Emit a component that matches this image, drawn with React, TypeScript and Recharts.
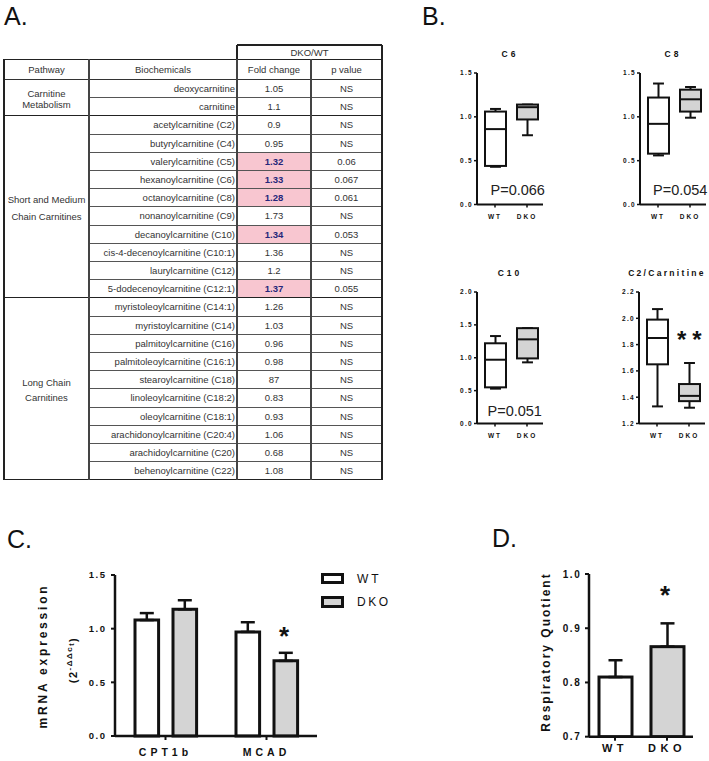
import React from 'react'
import { BarChart, ComposedChart, Bar, XAxis, YAxis, ErrorBar, Legend } from 'recharts'

const FONT = '"Liberation Sans", Arial, sans-serif'
const INK = '#111'
const GREY = '#d4d4d4'
const PINK = '#f8c6d0'

// ---- A. table ----
const pathwayLines = [['Carnitine', 'Metabolism'], ['Short and Medium', 'Chain Carnitines'], ['Long Chain', 'Carnitines']]
const pathwayRows = [2, 10, 10]
const pathwayLeading = [11.5, 17.5, 15]
const biochemicals = [
  'deoxycarnitine', 'carnitine', 'acetylcarnitine (C2)', 'butyrylcarnitine (C4)', 'valerylcarnitine (C5)',
  'hexanoylcarnitine (C6)', 'octanoylcarnitine (C8)', 'nonanoylcarnitine (C9)', 'decanoylcarnitine (C10)',
  'cis-4-decenoylcarnitine (C10:1)', 'laurylcarnitine (C12)', '5-dodecenoylcarnitine (C12:1)',
  'myristoleoylcarnitine (C14:1)', 'myristoylcarnitine (C14)', 'palmitoylcarnitine (C16)',
  'palmitoleoylcarnitine (C16:1)', 'stearoylcarnitine (C18)', 'linoleoylcarnitine (C18:2)',
  'oleoylcarnitine (C18:1)', 'arachidonoylcarnitine (C20:4)', 'arachidoylcarnitine (C20)', 'behenoylcarnitine (C22)',
]
const foldChanges = ['1.05', '1.1', '0.9', '0.95', '1.32', '1.33', '1.28', '1.73', '1.34', '1.36', '1.2', '1.37',
  '1.26', '1.03', '0.96', '0.98', '87', '0.83', '0.93', '1.06', '0.68', '1.08']
const pValues = ['NS', 'NS', 'NS', 'NS', '0.06', '0.067', '0.061', 'NS', '0.053', 'NS', 'NS', '0.055',
  'NS', 'NS', 'NS', 'NS', 'NS', 'NS', 'NS', 'NS', 'NS', 'NS']

// ---- B. box plots: [min, q1, median, q3, max] ----
const boxGroups = ['WT', 'DKO']
const c6WT = [0.43, 0.44, 0.86, 1.06, 1.09]
const c6DKO = [0.79, 0.97, 1.11, 1.14, 1.14]
const c8WT = [0.56, 0.58, 0.92, 1.22, 1.38]
const c8DKO = [0.99, 1.06, 1.2, 1.31, 1.34]
const c10WT = [0.53, 0.55, 0.97, 1.22, 1.33]
const c10DKO = [0.93, 0.99, 1.28, 1.45, 1.45]
const c2WT = [1.33, 1.65, 1.85, 1.99, 2.07]
const c2DKO = [1.32, 1.37, 1.41, 1.5, 1.66]
const ticksC6 = [0, 0.5, 1, 1.5]
const ticksC10 = [0, 0.5, 1, 1.5, 2]
const ticksC2 = [1.2, 1.4, 1.6, 1.8, 2, 2.2]

// ---- C. mRNA ----
const genes = ['CPT1b', 'MCAD']
const mrnaWT = [1.08, 0.97]
const mrnaWTsem = [0.065, 0.09]
const mrnaDKO = [1.18, 0.7]
const mrnaDKOsem = [0.085, 0.075]
const mrnaTicks = [0, 0.5, 1, 1.5]

// ---- D. RQ ----
const rqGroups = ['WT', 'DKO']
const rqMean = [0.81, 0.866]
const rqSem = [0.031, 0.043]
const rqTicks = [0.7, 0.8, 0.9, 1.0]

const colX = [4, 89, 237, 311, 382]
const HEAD_TOP = 59.4
const HEAD_BOTTOM = 79.4
const ROW_H = 18.2
const rowTop = (i: number) => HEAD_BOTTOM + i * ROW_H

function HLine({ x1, x2, y, w = 1, c = '#444' }: any) {
  return <div style={{ position: 'absolute', left: x1, width: x2 - x1, top: y - w / 2, height: w, background: c }} />
}
function VLine({ x, y1, y2, w = 1, c = '#444' }: any) {
  return <div style={{ position: 'absolute', left: x - w / 2, width: w, top: y1, height: y2 - y1, background: c }} />
}

function Cell({ left, top, width, height, align = 'center', children, style }: any) {
  return (
    <div
      style={{
        position: 'absolute', left, top, width, height, display: 'flex', alignItems: 'center',
        justifyContent: align === 'right' ? 'flex-end' : 'center', boxSizing: 'border-box',
        paddingRight: align === 'right' ? 2 : 0, fontSize: 9.5, color: '#333', whiteSpace: 'nowrap', ...style,
      }}
    >
      {children}
    </div>
  )
}

function TableA() {
  const bottom = rowTop(biochemicals.length)
  const groupStarts = [0, 2, 12]
  return (
    <div style={{ position: 'absolute', left: 0, top: 0, fontFamily: FONT }}>
      {biochemicals.map((b, i) =>
        pValues[i] !== 'NS' ? (
          <div key={'pk' + i} style={{ position: 'absolute', left: colX[2], top: rowTop(i), width: colX[3] - colX[2], height: ROW_H, background: PINK }} />
        ) : null
      )}
      <Cell left={colX[2]} top={45} width={colX[4] - colX[2]} height={HEAD_TOP - 45}>DKO/WT</Cell>
      <Cell left={colX[0]} top={HEAD_TOP} width={colX[1] - colX[0]} height={HEAD_BOTTOM - HEAD_TOP}>Pathway</Cell>
      <Cell left={colX[1]} top={HEAD_TOP} width={colX[2] - colX[1]} height={HEAD_BOTTOM - HEAD_TOP}>Biochemicals</Cell>
      <Cell left={colX[2]} top={HEAD_TOP} width={colX[3] - colX[2]} height={HEAD_BOTTOM - HEAD_TOP}>Fold change</Cell>
      <Cell left={colX[3]} top={HEAD_TOP} width={colX[4] - colX[3]} height={HEAD_BOTTOM - HEAD_TOP}>p value</Cell>
      {pathwayLines.map((lines, g) => (
        <Cell key={'pw' + g} left={colX[0]} top={rowTop(groupStarts[g])} width={colX[1] - colX[0]} height={pathwayRows[g] * ROW_H}>
          <div style={{ textAlign: 'center', lineHeight: pathwayLeading[g] + 'px', paddingTop: 3 }}>
            {lines.map((l) => <div key={l}>{l}</div>)}
          </div>
        </Cell>
      ))}
      {biochemicals.map((b, i) => (
        <React.Fragment key={b}>
          <Cell left={colX[1]} top={rowTop(i)} width={colX[2] - colX[1]} height={ROW_H} align="right">{b}</Cell>
          <Cell
            left={colX[2]} top={rowTop(i)} width={colX[3] - colX[2]} height={ROW_H}
            style={pValues[i] !== 'NS' ? { fontWeight: 700, color: '#26267a' } : undefined}
          >
            {foldChanges[i]}
          </Cell>
          <Cell left={colX[3]} top={rowTop(i)} width={colX[4] - colX[3]} height={ROW_H}>{pValues[i]}</Cell>
        </React.Fragment>
      ))}
      {/* grid */}
      <HLine x1={colX[2]} x2={colX[4]} y={45} w={1.4} c="#222" />
      <VLine x={colX[2]} y1={45} y2={HEAD_TOP} w={1.4} c="#222" />
      <VLine x={colX[4]} y1={45} y2={HEAD_TOP} w={1.4} c="#222" />
      <HLine x1={colX[0]} x2={colX[4]} y={HEAD_TOP} w={1.4} c="#222" />
      <HLine x1={colX[0]} x2={colX[4]} y={HEAD_BOTTOM} w={1.2} c="#333" />
      {biochemicals.map((b, i) =>
        i === 0 ? null : groupStarts.includes(i) ? (
          <HLine key={'h' + i} x1={colX[0]} x2={colX[4]} y={rowTop(i)} w={1.4} c="#222" />
        ) : (
          <HLine key={'h' + i} x1={colX[1]} x2={colX[4]} y={rowTop(i)} w={1} c="#555" />
        )
      )}
      <HLine x1={colX[0]} x2={colX[4]} y={bottom} w={1.4} c="#222" />
      {colX.map((x, k) => (
        <VLine key={'v' + k} x={x} y1={HEAD_TOP} y2={bottom} w={k === 0 || k === 4 ? 1.5 : 1.1} c={k === 0 || k === 4 ? '#222' : '#444'} />
      ))}
    </div>
  )
}

function BoxShape(props: any) {
  const { x, y, width, height, payload } = props
  if (!payload) return null
  const top = Math.min(y, y + height)
  const bottom = Math.max(y, y + height)
  const toY = (v: number) => bottom - ((v - payload.min) / (payload.max - payload.min)) * (bottom - top)
  const cx = x + width / 2
  const cap = width * 0.26
  const yMax = toY(payload.max)
  const yQ3 = toY(payload.q3)
  const yMed = toY(payload.median)
  const yQ1 = toY(payload.q1)
  const yMin = toY(payload.min)
  return (
    <g stroke={INK} strokeWidth={2}>
      <line x1={cx} x2={cx} y1={yMax} y2={yQ3} />
      <line x1={cx} x2={cx} y1={yQ1} y2={yMin} />
      <line x1={cx - cap} x2={cx + cap} y1={yMax} y2={yMax} />
      <line x1={cx - cap} x2={cx + cap} y1={yMin} y2={yMin} />
      <rect x={x} y={yQ3} width={width} height={yQ1 - yQ3} fill={payload.group === 'DKO' ? GREY : '#fff'} />
      <line x1={x} x2={x + width} y1={yMed} y2={yMed} />
    </g>
  )
}

const smallTick = { fontSize: 6.5, fontWeight: 700, fill: INK, fontFamily: FONT }

function BoxPanel({ axisX, plotTop, wt, dko, domain, ticks }: any) {
  const data = boxGroups.map((g, i) => {
    const s = i === 0 ? wt : dko
    return { group: g, min: s[0], q1: s[1], median: s[2], q3: s[3], max: s[4] }
  })
  return (
    <div style={{ position: 'absolute', left: axisX - 30, top: plotTop - 10 }}>
      <ComposedChart width={100} height={165.5} data={data} margin={{ top: 10, right: 4, left: 0, bottom: 0 }}>
        <XAxis
          dataKey="group" height={24} padding={{ left: 2, right: 0 }} tickSize={3} tickMargin={7}
          axisLine={{ stroke: INK, strokeWidth: 2 }} tickLine={{ stroke: INK, strokeWidth: 1.5 }}
          tick={{ ...smallTick, letterSpacing: 2 }} interval={0}
        />
        <YAxis
          width={30} domain={domain} ticks={ticks} type="number" tickSize={3} tickMargin={1}
          axisLine={{ stroke: INK, strokeWidth: 2 }} tickLine={{ stroke: INK, strokeWidth: 1.5 }}
          tick={{ ...smallTick, letterSpacing: 1.3 }} tickFormatter={(v: number) => v.toFixed(1)}
        />
        <Bar dataKey={(d: any) => [d.min, d.max]} barSize={21} shape={BoxShape} isAnimationActive={false} />
      </ComposedChart>
    </div>
  )
}

const axisTick = { fontSize: 9.5, fontWeight: 700, fill: INK, fontFamily: FONT, letterSpacing: 1.5 }

function MrnaLegend() {
  const rows = [{ label: 'WT', fill: '#fff', ls: 3 }, { label: 'DKO', fill: GREY, ls: 2.5 }]
  return (
    <div style={{ fontFamily: FONT }}>
      {rows.map((r) => (
        <div key={r.label} style={{ display: 'flex', alignItems: 'center', height: 23.3 }}>
          <div style={{ width: 23.3, height: 11.3, boxSizing: 'border-box', border: `3px solid ${INK}`, background: r.fill }} />
          <span style={{ marginLeft: 13, fontSize: 12, letterSpacing: r.ls, color: INK }}>{r.label}</span>
        </div>
      ))}
    </div>
  )
}

function PanelC() {
  const data = genes.map((g, i) => ({
    gene: g, wt: mrnaWT[i], dko: mrnaDKO[i], wtErr: [0, mrnaWTsem[i]], dkoErr: [0, mrnaDKOsem[i]],
  }))
  return (
    <div style={{ position: 'absolute', left: 75, top: 565 }}>
      <BarChart width={300} height={196} data={data} margin={{ top: 10, right: 58, left: 0, bottom: 0 }} barGap={14.4}>
        <XAxis
          dataKey="gene" height={25} tickSize={4} tickMargin={9}
          axisLine={{ stroke: INK, strokeWidth: 2.5 }} tickLine={{ stroke: INK, strokeWidth: 2 }}
          tick={{ ...axisTick, fontSize: 10.5, letterSpacing: 4 }}
        />
        <YAxis
          width={40} domain={[0, 1.5]} ticks={mrnaTicks} tickSize={4} tickMargin={4.5}
          axisLine={{ stroke: INK, strokeWidth: 2.5 }} tickLine={{ stroke: INK, strokeWidth: 2 }}
          tick={axisTick} tickFormatter={(v: number) => v.toFixed(1)}
        />
        <Legend
          layout="horizontal" align="center" verticalAlign="middle"
          wrapperStyle={{ left: 245.7, top: 2, width: 80 }} content={() => <MrnaLegend />}
        />
        <Bar dataKey="wt" fill="#fff" stroke={INK} strokeWidth={3} barSize={23.6} isAnimationActive={false}>
          <ErrorBar dataKey="wtErr" width={7} stroke={INK} strokeWidth={2.5} direction="y" />
        </Bar>
        <Bar dataKey="dko" fill={GREY} stroke={INK} strokeWidth={3} barSize={23.6} isAnimationActive={false}>
          <ErrorBar dataKey="dkoErr" width={7} stroke={INK} strokeWidth={2.5} direction="y" />
        </Bar>
      </BarChart>
    </div>
  )
}

function PanelD() {
  const data = rqGroups.map((g, i) => ({ group: g, rq: rqMean[i], err: [0, rqSem[i]] }))
  return (
    <div style={{ position: 'absolute', left: 549.3, top: 564 }}>
      <BarChart width={146} height={196.7} data={data} margin={{ top: 10, right: 2, left: 0, bottom: 0 }}>
        <XAxis
          dataKey="group" height={24} tickSize={4} tickMargin={3.7}
          axisLine={{ stroke: INK, strokeWidth: 2.5 }} tickLine={{ stroke: INK, strokeWidth: 2 }}
          tick={{ ...axisTick, fontSize: 11, letterSpacing: 4.5 }}
        />
        <YAxis
          width={40} domain={[0.7, 1.0]} ticks={rqTicks} tickSize={4} tickMargin={3.8} allowDataOverflow
          axisLine={{ stroke: INK, strokeWidth: 2.5 }} tickLine={{ stroke: INK, strokeWidth: 2 }}
          tick={{ ...axisTick, fontSize: 10 }} tickFormatter={(v: number) => v.toFixed(1)}
        />
        <Bar dataKey="rq" barSize={33} stroke={INK} strokeWidth={3} isAnimationActive={false}
          shape={(p: any) => (
            <rect x={p.x} y={p.y} width={p.width} height={p.height} fill={p.payload.group === 'DKO' ? GREY : '#fff'} stroke={INK} strokeWidth={3} />
          )}
        >
          <ErrorBar dataKey="err" width={7} stroke={INK} strokeWidth={2.5} direction="y" />
        </Bar>
      </BarChart>
    </div>
  )
}

function Overlay() {
  const title = { fontFamily: FONT, fontSize: 8.5, fontWeight: 700, letterSpacing: 3, fill: INK, textAnchor: 'middle' as const, dominantBaseline: 'central' as const }
  const pval = { fontFamily: FONT, fontSize: 14.5, fill: '#222', dominantBaseline: 'central' as const }
  const panel = { fontFamily: FONT, fontSize: 25, fill: '#111' }
  const star = { fontFamily: FONT, fontWeight: 700, fill: INK }
  return (
    <svg width={709} height={761} style={{ position: 'absolute', left: 0, top: 0, pointerEvents: 'none' }}>
      <text x={4} y={25} {...panel}>A.</text>
      <text x={422} y={25} {...panel}>B.</text>
      <text x={7} y={548} {...panel}>C.</text>
      <text x={492} y={547} {...panel}>D.</text>

      <text x={510} y={53.5} {...title}>C6</text>
      <text x={673} y={53.5} {...title}>C8</text>
      <text x={510} y={272.5} {...title}>C10</text>
      <text x={667} y={272.5} {...title} letterSpacing={2.3}>C2/Carnitine</text>

      <text x={490.5} y={190} {...pval}>P=0.066</text>
      <text x={653} y={190} {...pval}>P=0.054</text>
      <text x={487.5} y={410.5} {...pval}>P=0.051</text>

      <text x={677} y={348} fontSize={24} letterSpacing={6} {...star}>**</text>
      <text x={279} y={645} fontSize={26} {...star}>*</text>
      <text x={660} y={604} fontSize={26} {...star}>*</text>

      <text
        x={43} y={656} transform="rotate(-90 43 656)" textAnchor="middle" dominantBaseline="central"
        fontFamily={FONT} fontSize={12} fontWeight={700} letterSpacing={2.8} fill={INK}
      >
        mRNA expression
      </text>
      <text
        x={73} y={660} transform="rotate(-90 73 660)" textAnchor="middle" dominantBaseline="central"
        fontFamily={FONT} fontSize={11} fontWeight={700} letterSpacing={1.5} fill={INK}
      >
        (2<tspan fontSize={8} dy={-4}>-ΔΔc</tspan><tspan fontSize={7} dy={2}>t</tspan><tspan dy={2}>)</tspan>
      </text>
      <text
        x={546} y={652} transform="rotate(-90 546 652)" textAnchor="middle" dominantBaseline="central"
        fontFamily={FONT} fontSize={12} fontWeight={700} letterSpacing={2} fill={INK}
      >
        Respiratory Quotient
      </text>
    </svg>
  )
}

export default function App() {
  return (
    <div style={{ position: 'absolute', left: 0, top: 0, width: 709, height: 761, background: '#fff', overflow: 'hidden', fontFamily: FONT }}>
      <TableA />
      <BoxPanel axisX={476.5} plotTop={72.7} wt={c6WT} dko={c6DKO} domain={[0, 1.5]} ticks={ticksC6} />
      <BoxPanel axisX={639.5} plotTop={72.7} wt={c8WT} dko={c8DKO} domain={[0, 1.5]} ticks={ticksC6} />
      <BoxPanel axisX={477} plotTop={291.7} wt={c10WT} dko={c10DKO} domain={[0, 2]} ticks={ticksC10} />
      <BoxPanel axisX={639.3} plotTop={291.7} wt={c2WT} dko={c2DKO} domain={[1.2, 2.2]} ticks={ticksC2} />
      <PanelC />
      <PanelD />
      <Overlay />
    </div>
  )
}
